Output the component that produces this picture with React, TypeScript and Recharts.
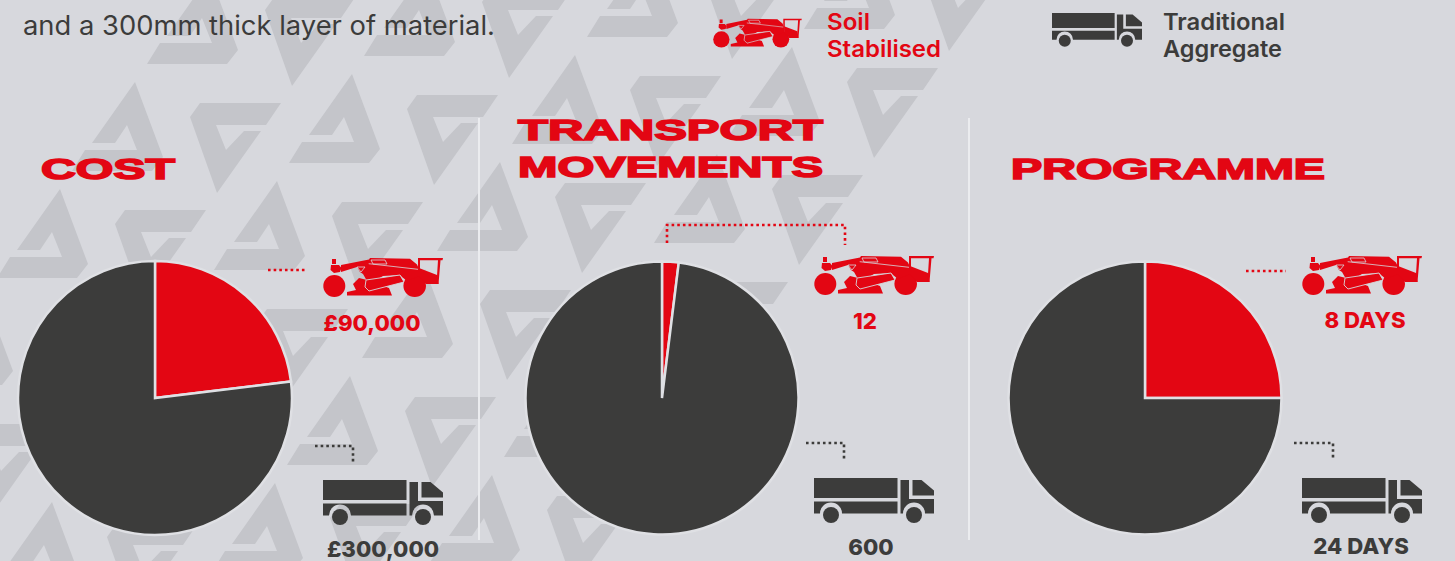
import { PieChart, Pie, Cell } from 'recharts';

const RED = '#e30613';
const DARK = '#3c3c3b';
const BG = '#d7d8dd';
const PATTERN = '#c4c5ca';

const categories = ['Soil Stabilised', 'Traditional Aggregate'];
const costValues = [90000, 300000];
const transportValues = [12, 600];
const programmeValues = [8, 24];

const toRows = (values: number[]) => values.map((value, i) => ({ name: categories[i], value }));

// background logo shapes, repeated on a skewed lattice
const A_SHAPE = '0,0 -43,61 -20,61 -8,43 2,68 -50,68 -63,89 17,89 28,75';
const V_SHAPE = '-10,14 0,0 81,0 66,22 16,22 26,47 44,28 61,28 17,90';

function Background() {
    const shapes = [];
    for (let j = -1; j < 6; j++) {
        for (let i = 0; i < 4; i++) {
            const half = Math.floor(i / 2);
            const odd = i % 2;
            const ax = 135 + half * 440 + odd * 217 - j * 75;
            const ay = 82 - half * 27 - odd * 8 + j * 107;
            shapes.push(<polygon key={`a${i}_${j}`} points={A_SHAPE} transform={`translate(${ax} ${ay})`} />);
            shapes.push(<polygon key={`v${i}_${j}`} points={V_SHAPE} transform={`translate(${ax + 65} ${ay + 21})`} />);
        }
    }
    return (
        <svg width={1455} height={561} style={{ position: 'absolute', left: 0, top: 0 }}>
            <rect width={1455} height={561} fill={BG} />
            <g fill={PATTERN}>{shapes}</g>
        </svg>
    );
}

// 120 x 41 box
function Machine({ x, y, scale = 1 }: { x: number; y: number; scale?: number }) {
    return (
        <g transform={`translate(${x} ${y}) scale(${scale})`}>
            <g fill={RED}>
                <circle cx={11.3} cy={29} r={11} />
                <circle cx={91.7} cy={28.7} r={11.3} />
                <rect x={9} y={2} width={4} height={5} />
                <path d="M8 8 L16 8 L18.5 11 L17 15 L11 16 L7.5 13 Z" />
                <path d="M18 8 L46 2.5 L47 1 L87 1.7 L94 7.5 L96 12 L96 19 L84 24 L79 20 L77 18 L60 19 L55 22 L44 24 L40 17 L37 15 L34 10 L18 15 Z" />
                <path d="M24 38.5 L69 38.5 L66 31 L44 23 L36 21 L30 27 L33 33 L24 35 Z" />
                <path d="M96 11 L114 18 L115.5 27 L103 27 L96 19 Z" />
                <path d="M95 1 L120 1 L119.5 3.2 L117.5 3.2 L115.5 27 L113.5 27 L115 3.2 L97 3.2 L97 12 L95 12 Z" />
            </g>
            <path d="M43 23 L77 18 L81 25 L46 34 L42 30 Z" fill={RED} stroke={BG} strokeWidth={0.9} strokeLinejoin="round" />
            <path d="M45.7 6.7 L95 12.3 M48 3 L62 3 L64 7 L50 7 Z M34 10 L42 10 L38 15 Z" fill="none" stroke={BG} strokeWidth={0.8} />
        </g>
    );
}

// 120 x 45 box
function Truck({ x, y, scale = 1 }: { x: number; y: number; scale?: number }) {
    return (
        <g transform={`translate(${x} ${y}) scale(${scale})`} fill={DARK}>
            <rect x={0} y={0} width={83.5} height={20} />
            <path d="M0 23.5 L83.5 23.5 L83.5 35.5 L28 35.5 A11 11 0 0 0 6 35.5 L0 35.5 Z" />
            <path d="M86.5 2 L95 2 L95 21 L120 21 L120 35.5 L111 35.5 A11 11 0 0 0 89 35.5 L86.5 35.5 Z" />
            <path d="M98.5 2 L107.5 2 L120 12.5 L120 17.5 L98.5 17.5 Z" />
            <circle cx={17} cy={37} r={8} />
            <circle cx={100} cy={37} r={8} />
        </g>
    );
}

function Dots({ d, color }: { d: string; color: string }) {
    return <path d={d} fill="none" stroke={color} strokeWidth={2.6} strokeDasharray="2.6 3.05" />;
}

const titleFont = { fontFamily: 'Liberation Sans', fontWeight: 700, fill: RED, stroke: RED, strokeWidth: 1.6 };
const labelFont = { fontFamily: 'Inter', fontWeight: 800, fontSize: 22.2, textAnchor: 'middle' as const };
const legendFont = { fontFamily: 'Inter', fontWeight: 600, fontSize: 23 };

function Title({ x, y, w, children }: { x: number; y: number; w: number; children: string }) {
    return (
        <text x={x} y={y} fontSize={30} textLength={w} lengthAdjust="spacingAndGlyphs" {...titleFont}>
            {children}
        </text>
    );
}

function Overlay() {
    return (
        <svg width={1455} height={561} style={{ position: 'absolute', left: 0, top: 0 }}>
            <text x={23} y={35} fontFamily="Inter" fontSize={26.5} fill={DARK} textLength={472} lengthAdjust="spacingAndGlyphs">
                and a 300mm thick layer of material.
            </text>

            <line x1={479} y1={118} x2={479} y2={540} stroke="#ebecef" strokeWidth={2} />
            <line x1={969} y1={118} x2={969} y2={540} stroke="#ebecef" strokeWidth={2} />

            <Machine x={713} y={18} scale={0.74} />
            <text x={827} y={30} fill={RED} textLength={43} lengthAdjust="spacingAndGlyphs" {...legendFont}>Soil</text>
            <text x={827} y={57} fill={RED} textLength={114} lengthAdjust="spacingAndGlyphs" {...legendFont}>Stabilised</text>
            <Truck x={1052} y={13} scale={0.75} />
            <text x={1163} y={30} fill={DARK} textLength={122} lengthAdjust="spacingAndGlyphs" {...legendFont}>Traditional</text>
            <text x={1163} y={57} fill={DARK} textLength={119} lengthAdjust="spacingAndGlyphs" {...legendFont}>Aggregate</text>

            <Title x={41} y={179} w={134}>COST</Title>
            <Title x={518} y={140} w={305}>TRANSPORT</Title>
            <Title x={518} y={177} w={305}>MOVEMENTS</Title>
            <Title x={1011} y={179} w={314}>PROGRAMME</Title>

            <Dots d="M268 270 H307" color={RED} />
            <Dots d="M315 446 H353 V462" color={DARK} />
            <Dots d="M667 243 V225 H845 V245" color={RED} />
            <Dots d="M806 443 H844 V460" color={DARK} />
            <Dots d="M1246 271 H1286" color={RED} />
            <Dots d="M1294 443 H1333 V460" color={DARK} />

            <Machine x={323} y={257} />
            <Truck x={323} y={480} />
            <Machine x={814} y={255} />
            <Truck x={814} y={478} />
            <Machine x={1302} y={255} />
            <Truck x={1302} y={478} />

            <text x={372} y={331} fill={RED} {...labelFont}>£90,000</text>
            <text x={383} y={557} fill={DARK} {...labelFont}>£300,000</text>
            <text x={865} y={329} fill={RED} {...labelFont}>12</text>
            <text x={871} y={555} fill={DARK} {...labelFont}>600</text>
            <text x={1365} y={328} fill={RED} {...labelFont}>8 DAYS</text>
            <text x={1361} y={554} fill={DARK} {...labelFont}>24 DAYS</text>
        </svg>
    );
}

function ComparePie({ values, cx, cy, r }: { values: number[]; cx: number; cy: number; r: number }) {
    return (
        <Pie
            data={toRows(values)}
            dataKey="value"
            nameKey="name"
            cx={cx}
            cy={cy}
            outerRadius={r}
            startAngle={90}
            endAngle={-270}
            stroke="#dfe0e4"
            strokeWidth={2.5}
            isAnimationActive={false}
        >
            <Cell fill={RED} />
            <Cell fill={DARK} />
        </Pie>
    );
}

export default function App() {
    return (
        <div style={{ position: 'absolute', left: 0, top: 0, width: 1455, height: 561, overflow: 'hidden' }}>
            <Background />
            <div style={{ position: 'absolute', left: 0, top: 0 }}>
                <PieChart width={1455} height={561} margin={{ top: 0, right: 0, bottom: 0, left: 0 }}>
                    {ComparePie({ values: costValues, cx: 155, cy: 398, r: 137 })}
                    {ComparePie({ values: transportValues, cx: 662, cy: 398, r: 136.5 })}
                    {ComparePie({ values: programmeValues, cx: 1145, cy: 398, r: 136.5 })}
                </PieChart>
            </div>
            <Overlay />
        </div>
    );
}
